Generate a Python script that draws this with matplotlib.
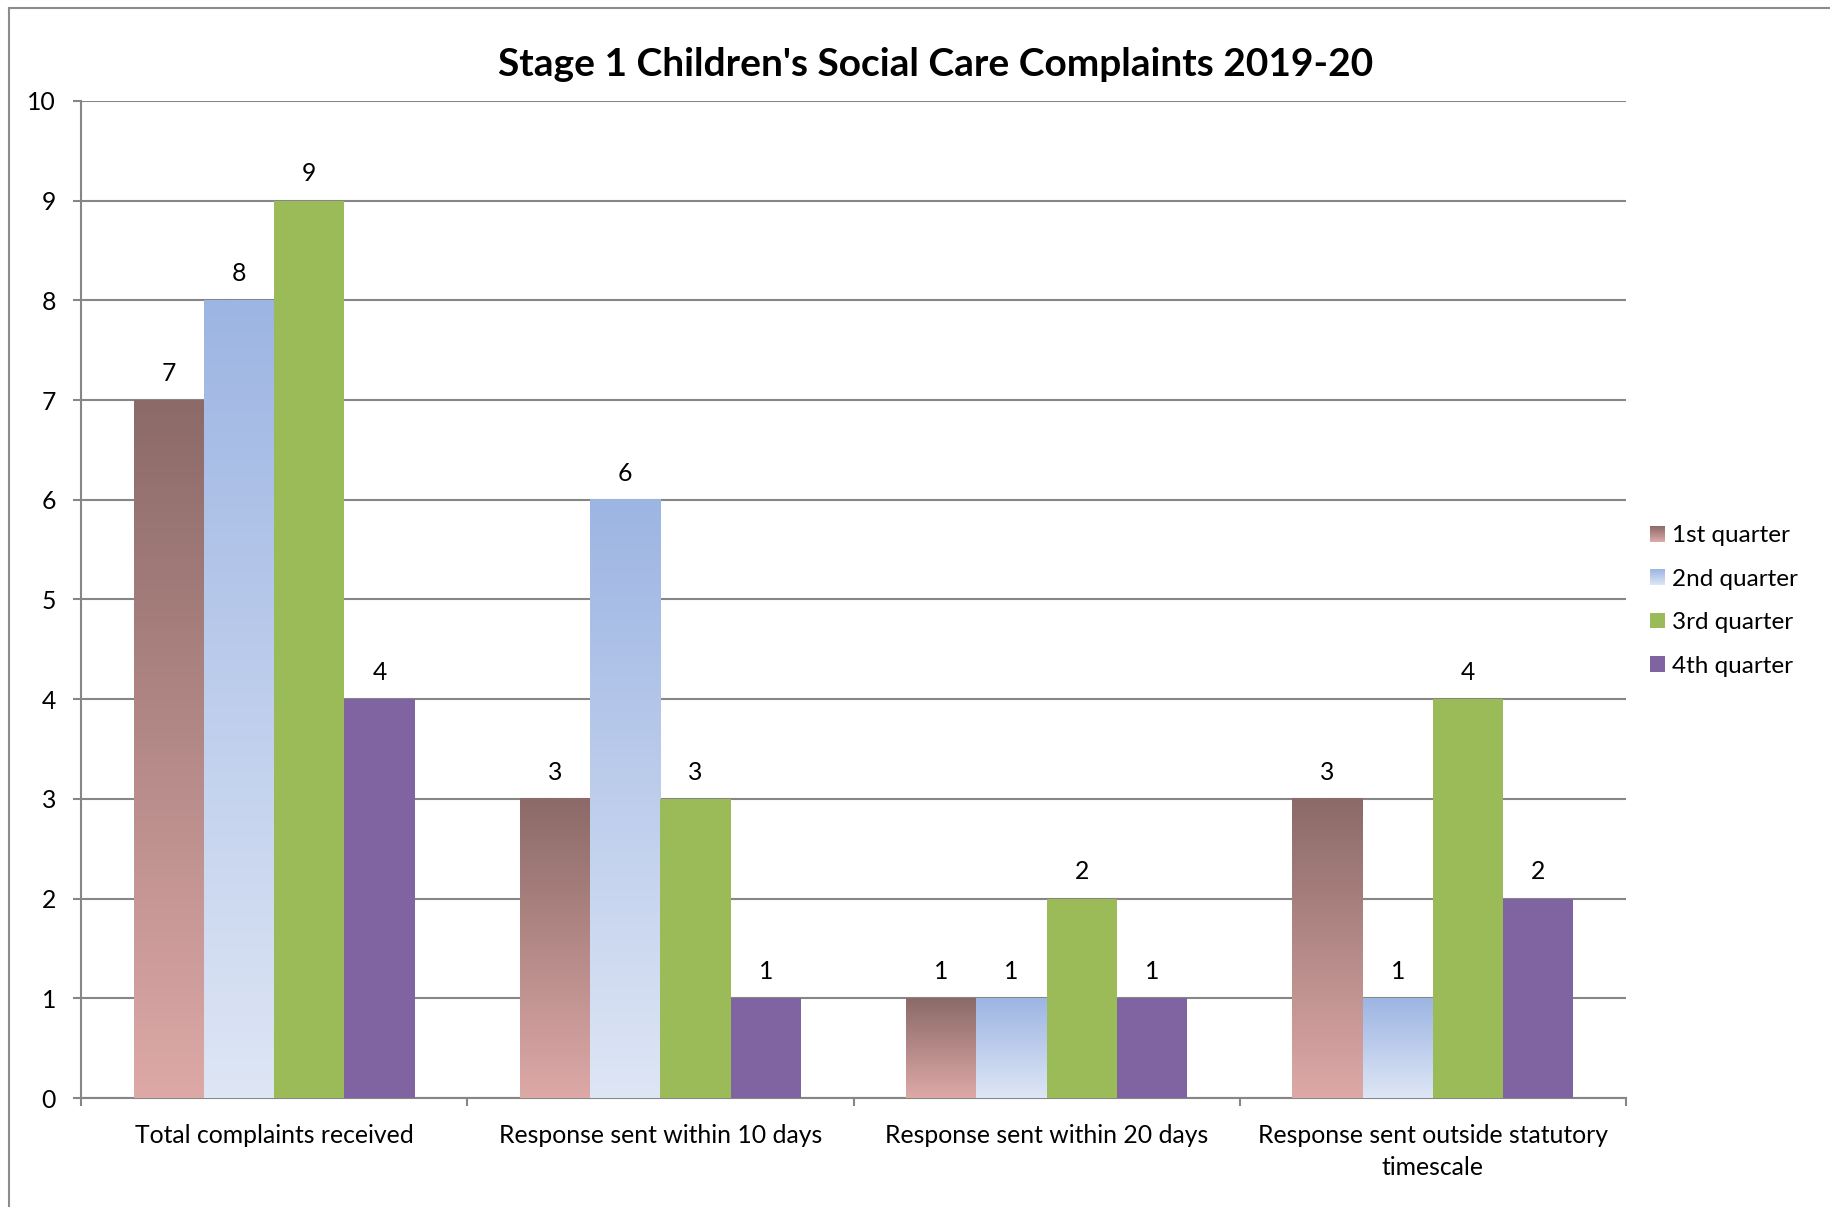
import numpy as np
import matplotlib
matplotlib.use('Agg')
import matplotlib.pyplot as plt
from matplotlib.colors import to_rgb
from matplotlib.patches import Rectangle
from matplotlib.legend_handler import HandlerBase
from matplotlib.lines import Line2D

categories = ["Total complaints received", "Response sent within 10 days",
              "Response sent within 20 days", "Response sent outside statutory\ntimescale"]
series = ["1st quarter", "2nd quarter", "3rd quarter", "4th quarter"]
q1 = [7, 3, 1, 3]
q2 = [8, 6, 1, 1]
q3 = [9, 3, 2, 4]
q4 = [4, 1, 1, 2]
yticks = list(range(0, 11))
title = "Stage 1 Children's Social Care Complaints 2019-20"

colors = [("#8B6A68", "#DDA9A7"), ("#9DB5E3", "#DEE6F5"),
          ("#9BBB59", "#9BBB59"), ("#8064A2", "#8064A2")]

plt.rcParams['font.family'] = ['Lato', 'DejaVu Sans']
W, H = 1830, 1207
fig = plt.figure(figsize=(W / 100, H / 100), dpi=100)
ax = fig.add_axes([81 / W, 1 - 1098 / H, (1626 - 81) / W, (1098 - 101) / H])

x = np.arange(len(categories))
bw = 0.1818
values = [q1, q2, q3, q4]
FS = 17.8
LFS = 17.5


def gradient_img(top, bottom, n=256):
    t = np.linspace(0, 1, n)[:, None]
    top = np.array(to_rgb(top))
    bottom = np.array(to_rgb(bottom))
    img = top[None, :] * (1 - t) + bottom[None, :] * t
    return img[:, None, :]


class GradHandle:
    def __init__(self, top, bottom):
        self.top = np.array(to_rgb(top))
        self.bottom = np.array(to_rgb(bottom))


class GradHandler(HandlerBase):
    def create_artists(self, legend, orig_handle, xdescent, ydescent,
                       width, height, fontsize, trans):
        n = 24
        arts = []
        for k in range(n):
            t = (k + 0.5) / n
            c = orig_handle.bottom * (1 - t) + orig_handle.top * t
            r = Rectangle((-xdescent, -ydescent + height * k / n), width,
                          height / n * 1.05, facecolor=c, edgecolor='none',
                          lw=0, transform=trans)
            arts.append(r)
        return arts


for i, (vals, (ct, cb)) in enumerate(zip(values, colors)):
    offs = (i - 1.5) * bw
    cont = ax.bar(x + offs, vals, bw, color=ct, zorder=3, linewidth=0)
    if ct != cb:
        img = gradient_img(ct, cb)
        for r in cont:
            r.set_facecolor('none')
            ax.imshow(img, extent=[r.get_x(), r.get_x() + r.get_width(),
                                   r.get_y(), r.get_y() + r.get_height()],
                      aspect='auto', origin='upper', zorder=3,
                      interpolation='bilinear')
    ax.bar_label(cont, padding=11, fontsize=FS, color='black')

ax.set_xlim(-0.5, len(categories) - 0.5)
ax.set_ylim(0, 10)
ax.set_aspect('auto')
ax.set_yticks(yticks)
ax.set_yticklabels([str(v) for v in yticks], fontsize=FS)
ax.yaxis.grid(True, color='#868686', lw=1.5)
ax.set_axisbelow(True)
for s in ['top', 'right']:
    ax.spines[s].set_visible(False)
for s in ['left', 'bottom']:
    ax.spines[s].set_color('#868686')
    ax.spines[s].set_linewidth(1.5)
ax.tick_params(axis='y', length=6, width=1.5, color='#868686', pad=12)
ax.set_xticks(np.arange(len(categories) + 1) - 0.5)
ax.set_xticklabels([])
ax.tick_params(axis='x', which='major', length=6, width=1.5, color='#868686')
ax.set_xticks(x, minor=True)
ax.set_xticklabels(categories, minor=True, fontsize=FS, linespacing=1.45)
ax.tick_params(axis='x', which='minor', length=0, pad=19)

handles = [GradHandle(ct, cb) for ct, cb in colors]
fig.legend(handles, series, handler_map={GradHandle: GradHandler()},
           loc='center left', bbox_to_anchor=(1650 / W, 1 - 601 / H),
           frameon=False, fontsize=LFS, handlelength=0.62, handleheight=0.62,
           handletextpad=0.3, labelspacing=0.92, borderpad=0, borderaxespad=0)

fig.text(936 / W, 1 - 65 / H, title, ha='center', va='center',
         fontsize=28, fontweight='bold')

fig.add_artist(Line2D([9 / W, 9 / W], [0, 1 - 8 / H], transform=fig.transFigure,
                      color='#8c8c8c', lw=1.5))
fig.add_artist(Line2D([9 / W, 1], [1 - 8 / H, 1 - 8 / H], transform=fig.transFigure,
                      color='#8c8c8c', lw=1.5))

fig.savefig('out.png', dpi=100)
